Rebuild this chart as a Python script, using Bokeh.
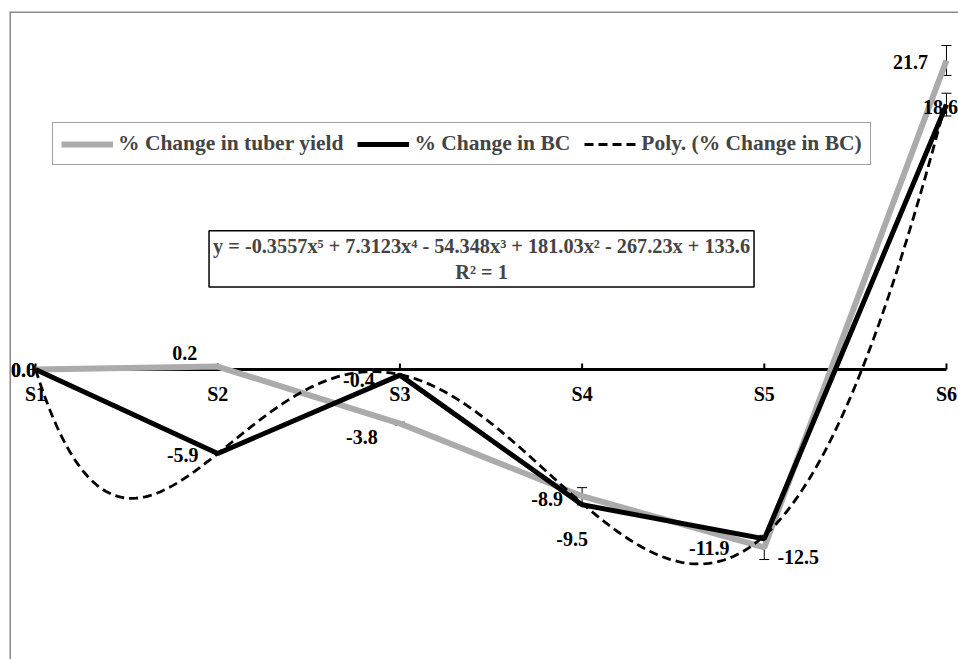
import numpy as np
from bokeh.plotting import figure
from bokeh.models import (ColumnDataSource, Legend, LegendItem, Span, Whisker,
                          TeeHead, Label)
from bokeh.core.properties import value
from bokeh.embed import file_html
from bokeh.resources import INLINE

# ---- data ----
categories = ["S1", "S2", "S3", "S4", "S5", "S6"]
tuber_yield = [0.0, 0.2, -3.8, -8.9, -12.5, 21.7]
bc_change = [0.0, -5.9, -0.4, -9.5, -11.9, 18.6]
tuber_err = [0.0, 0.0, 0.1, 0.6, 0.85, 1.05]
bc_err = [0.0, 0.0, 0.0, 0.0, 0.0, 0.8]
tuber_labels = ["0.0", "0.2", "-3.8", "-8.9", "-12.5", "21.7"]
bc_labels = ["0.0", "-5.9", "-0.4", "-9.5", "-11.9", "18.6"]
poly_coef = [-0.3557, 7.3123, -54.348, 181.03, -267.23, 133.6]  # x^5 .. x^0
equation = "y = -0.3557x\u2075 + 7.3123x\u2074 - 54.348x\u00b3 + 181.03x\u00b2 - 267.23x + 133.6"
r2_text = "R\u00b2 = 1"

FONT = "Liberation Serif"
GRAY = "#ababab"

xs = list(range(1, len(categories) + 1))
X0, X1 = 0.857, 6.066
Y0, Y1 = -20.37, 25.14

p = figure(width=958, height=659, x_range=(X0, X1), y_range=(Y0, Y1),
           x_axis_type=None, y_axis_type=None, toolbar_location=None,
           output_backend="svg", min_border_left=9, min_border_top=11,
           min_border_right=0, min_border_bottom=0)
p.outline_line_color = None
p.background_fill_color = "white"
p.border_fill_color = "white"

# chart border (left and top visible)
p.add_layout(Span(location=X0, dimension="height", line_color="#8a8a8a", line_width=3))
p.add_layout(Span(location=Y1, dimension="width", line_color="#8a8a8a", line_width=3))

# category axis crossing at y = 0
p.segment(x0=[xs[0]], y0=[0], x1=[xs[-1]], y1=[0], line_color="black", line_width=3)
p.segment(x0=xs, y0=[0] * len(xs), x1=xs, y1=[0.42] * len(xs), line_color="black", line_width=2)
p.text(x=xs, y=[0] * len(xs), text=categories, text_font=value(FONT),
       text_font_style="bold", text_font_size="20px", text_align="center",
       text_baseline="middle", y_offset=25)

# series
src = ColumnDataSource(dict(x=xs, tuber=tuber_yield, bc=bc_change,
                            tl=[a - e for a, e in zip(tuber_yield, tuber_err)],
                            tu=[a + e for a, e in zip(tuber_yield, tuber_err)],
                            bl=[a - e for a, e in zip(bc_change, bc_err)],
                            bu=[a + e for a, e in zip(bc_change, bc_err)]))

r_tuber = p.line("x", "tuber", source=src, line_color=GRAY, line_width=6)
r_bc = p.line("x", "bc", source=src, line_color="black", line_width=5)

px = np.linspace(1, 6, 300)
py = np.polyval(poly_coef, px)
r_poly = p.line(px, py, line_color="black", line_width=2.8, line_dash="9 5")

for lo, hi in (("tl", "tu"), ("bl", "bu")):
    w = Whisker(source=src, base="x", lower=lo, upper=hi, line_color="black", line_width=1,
                upper_head=TeeHead(size=10, line_color="black", line_width=1),
                lower_head=TeeHead(size=10, line_color="black", line_width=1))
    p.add_layout(w)

# data labels
t_dx = [-12, -33, -38, -35, 34, -36]
t_dy = [1, -14, 13, 3, 10, 2]
b_dx = [-12, -35, -41, -10, -55, -6]
b_dy = [1, 2, 5, 34, 9, 2]
p.text(x=xs, y=tuber_yield, text=tuber_labels, x_offset=t_dx, y_offset=t_dy,
       text_font=value(FONT), text_font_style="bold", text_font_size="20px",
       text_align="center", text_baseline="middle", text_color="black")
p.text(x=xs, y=bc_change, text=bc_labels, x_offset=b_dx, y_offset=b_dy,
       text_font=value(FONT), text_font_style="bold", text_font_size="20px",
       text_align="center", text_baseline="middle", text_color="black")

# equation box
eq = Label(x=3.448, y=9.75, text=equation + "\n" + r2_text, text_align="center",
           text_baseline="top", text_font=FONT, text_font_style="bold",
           text_font_size="20.3px", border_line_color="black", border_line_width=1.5,
           background_fill_color="white", padding=4)
p.add_layout(eq)

legend = Legend(items=[LegendItem(label="% Change in tuber yield", renderers=[r_tuber]),
                       LegendItem(label="% Change in BC", renderers=[r_bc]),
                       LegendItem(label="Poly. (% Change in BC)", renderers=[r_poly])],
                orientation="horizontal", location=(43, 494),
                label_text_font=FONT, label_text_font_style="bold",
                label_text_font_size="21.5px", glyph_width=52, glyph_height=20,
                label_standoff=5, spacing=14, padding=8, margin=0,
                border_line_color="#404040", border_line_width=1.5,
                background_fill_color="white", background_fill_alpha=1)
p.add_layout(legend, "center")

open("out.html", "w").write(file_html(p, INLINE))
